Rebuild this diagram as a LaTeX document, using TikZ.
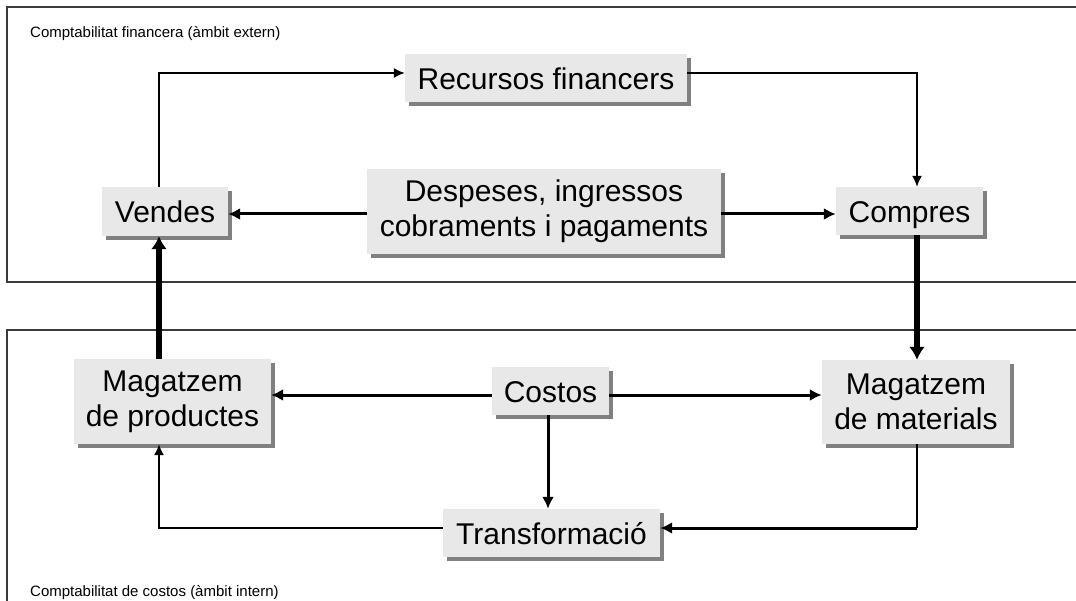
\documentclass[tikz,border=0pt]{standalone}
\usepackage{fontspec}
\setmainfont{Liberation Sans}
\usetikzlibrary{arrows.meta,shadows,calc}

\definecolor{boxgray}{HTML}{E8E8E8}
\definecolor{shadowgray}{HTML}{808080}
\definecolor{framegray}{HTML}{3A3A3A}

\tikzset{
  box/.style={fill=boxgray, draw=none, inner sep=0pt, align=center,
    font=\fontsize{30}{35}\selectfont,
    general shadow={fill=shadowgray, shadow xshift=4pt, shadow yshift=-4pt}},
  oneline/.style={text height=28pt, text depth=5pt},
  frame/.style={draw=framegray, line width=1.3pt},
  caption/.style={anchor=west, inner sep=0pt, font=\fontsize{15}{18}\selectfont},
  thinflow/.style={line width=1.6pt, -{Latex[length=11pt,width=10pt]}},
  midflow/.style={line width=3pt, -{Latex[length=12pt,width=12pt]}},
  thickflow/.style={line width=5.5pt, -{Latex[length=13pt,width=16pt]}},
}

\begin{document}
\begin{tikzpicture}[x=1pt,y=-1pt]
\useasboundingbox (0,0) rectangle (1076,601);

% the two accounting areas
\draw[frame] (1090,7) -- (7,7) -- (7,282) -- (1090,282);
\draw[frame] (1090,330) -- (7,330) -- (7,615);
\node[caption] (capfin) at (30,34) {Comptabilitat financera (àmbit extern)};
\node[caption] (capcost) at (30,593) {Comptabilitat de costos (àmbit intern)};

% boxes
\node[box, oneline, minimum width=282pt, minimum height=48pt] (rec) at (546,78) {Recursos financers};
\node[box, oneline, minimum width=126pt, minimum height=49pt] (vendes) at (165,211.5) {Vendes};
\node[box, minimum width=354pt, minimum height=85pt] (desp) at (544,211.5) {Despeses, ingressos\\cobraments i pagaments};
\node[box, oneline, minimum width=147pt, minimum height=48pt] (compres) at (909.5,211) {Compres};
\node[box, minimum width=197pt, minimum height=85pt] (mprod) at (172.5,401.5) {Magatzem\\de productes};
\node[box, oneline, minimum width=117pt, minimum height=48pt] (costos) at (550.5,391) {Costos};
\node[box, minimum width=188pt, minimum height=84pt] (mmat) at (916,402) {Magatzem\\de materials};
\node[box, oneline, minimum width=217pt, minimum height=48pt] (transf) at (551.5,533) {Transformació};

% guide lines for the connectors
\coordinate (colL) at (159,0);
\coordinate (colR) at (917,0);
\coordinate (colC) at (548,0);
\coordinate (rowTop) at (0,73);
\coordinate (rowMid) at (0,214);
\coordinate (rowCost) at (0,395);
\coordinate (rowLow) at (0,528);

% financial cycle
\draw[thinflow] (vendes.north -| colL) |- (rec.west |- rowTop);
\draw[thinflow] (rec.east |- rowTop) -| (compres.north -| colR);
\draw[midflow] (desp.west |- rowMid) -- (vendes.east |- rowMid);
\draw[midflow] (desp.east |- rowMid) -- (compres.west |- rowMid);

% links between the two areas
\draw[thickflow] (compres.south -| colR) -- (mmat.north -| colR);
\draw[thickflow] (mprod.north -| colL) -- (vendes.south -| colL);

% cost cycle
\draw[midflow] (costos.west |- rowCost) -- (mprod.east |- rowCost);
\draw[midflow] (costos.east |- rowCost) -- (mmat.west |- rowCost);
\draw[midflow] (costos.south -| colC) -- (transf.north -| colC);
\draw[line width=1.6pt] (mmat.south -| colR) -- (colR |- rowLow);
\draw[midflow] (colR |- rowLow) -- (transf.east |- rowLow);
\draw[thinflow] (transf.west |- rowLow) -| (mprod.south -| colL);
\end{tikzpicture}
\end{document}
